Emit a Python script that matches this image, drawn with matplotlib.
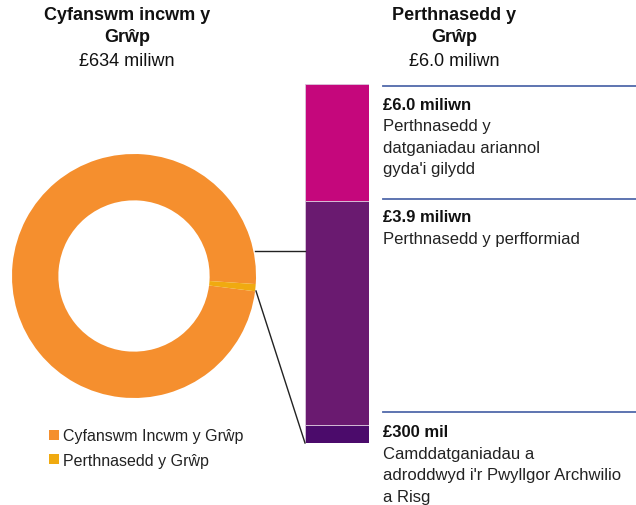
import matplotlib.pyplot as plt
from matplotlib.lines import Line2D

plt.rcParams['font.family'] = ['Liberation Sans', 'DejaVu Sans']

# data
income_total = 634      # £ miliwn
materiality = 6.0       # £ miliwn
pie_labels = ['Cyfanswm Incwm y Grŵp', 'Perthnasedd y Grŵp']
pie_colors = ['#F58F2E', '#F0AA10']

bar_segments = [0.3, 3.75, 1.95]   # bottom -> top, as drawn
bar_colors = ['#4B0B6B', '#6A1A70', '#C5077C']
bar_values = ['£300 mil', '£3.9 miliwn', '£6.0 miliwn']
bar_texts = ['Camddatganiadau a\nadroddwyd i\'r Pwyllgor Archwilio\na Risg',
             'Perthnasedd y perfformiad',
             'Perthnasedd y\ndatganiadau ariannol\ngyda\'i gilydd']

left_title = ['Cyfanswm incwm y', 'Grŵp', '£634 miliwn']
right_title = ['Perthnasedd y', 'Grŵp', '£6.0 miliwn']

W, H = 636, 506
fig = plt.figure(figsize=(W / 100, H / 100), dpi=100)

def fx(x):
    return x / W

def fy(y):
    return 1 - y / H

# donut
ax_pie = fig.add_axes([fx(12), fy(399), 244 / W, 244 / H])
wedges, _ = ax_pie.pie([income_total - materiality, materiality], colors=pie_colors,
                       startangle=-3.8, radius=1, wedgeprops=dict(width=0.38, edgecolor='none'))
ax_pie.set_xlim(-1, 1)
ax_pie.set_ylim(-1, 1)
ax_pie.set_aspect('equal')
ax_pie.axis('off')

leg = ax_pie.legend(wedges, pie_labels, loc='upper left', bbox_to_anchor=(fx(35), fy(415)),
                    bbox_transform=fig.transFigure, frameon=False, fontsize=11.5,
                    handlelength=0.6, handleheight=0.6, handletextpad=0.25, labelspacing=0.6)
for t in leg.get_texts():
    t.set_color('#222222')

# stacked bar
ax_bar = fig.add_axes([fx(305), fy(444), 64 / W, 359 / H])
bottom = 0
for v, c in zip(bar_segments, bar_colors):
    ax_bar.bar(0, v, bottom=bottom, width=1, color=c, edgecolor='#d9c7dc', linewidth=0.6)
    bottom += v
ax_bar.set_xlim(-0.5, 0.5)
ax_bar.set_ylim(0, sum(bar_segments))
ax_bar.axis('off')

# connector lines
fig.add_artist(Line2D([fx(255), fx(305)], [fy(252), fy(252)], color='#222222', lw=1))
fig.add_artist(Line2D([fx(256), fx(305)], [fy(292), fy(444)], color='#222222', lw=1))

# titles
for cx, lines in [(127, left_title), (454, right_title)]:
    for i, line in enumerate(lines):
        fig.text(fx(cx), fy(15 + 23 * i), line, ha='center', va='center', fontsize=13,
                 fontweight='bold' if i < 2 else 'normal', color='#111111')

# annotation rules and texts
rule_y = [413, 200, 87]
value_y = [433, 218, 105]
for ry, vy, val, txt in zip(rule_y, value_y, bar_values, bar_texts):
    fig.add_artist(Line2D([fx(383), fx(636)], [fy(ry), fy(ry)], color='#5069AA', lw=1.3))
    fig.text(fx(383), fy(vy), val, ha='left', va='center', fontsize=12,
             fontweight='bold', color='#111111')
    for i, line in enumerate(txt.split('\n')):
        fig.text(fx(383), fy(vy + 21.5 * (i + 1)), line, ha='left', va='center',
                 fontsize=12, color='#222222')

fig.savefig('out.png', dpi=100)
